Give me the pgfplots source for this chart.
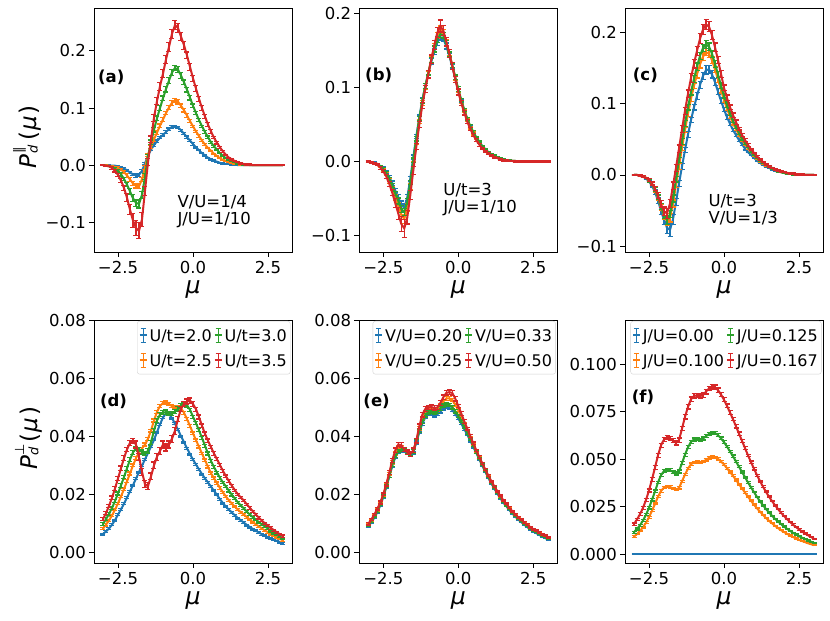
\documentclass[border=0pt]{standalone}
\usepackage{fontspec}
\setmainfont{DejaVu Sans}
\usepackage{pgfplots}
\usepackage{pgfplotstable}
\pgfplotsset{compat=1.18}
\definecolor{tb}{HTML}{1F77B4}
\definecolor{to}{HTML}{FF7F0E}
\definecolor{tg}{HTML}{2CA02C}
\definecolor{tr}{HTML}{D62728}

\pgfplotstableread{
x b be o oe g ge r re
-3.0 0 0.001 0 0.001 0 0.001 0 0.001
-2.9 0 0.001 0 0.001 -0.001 0.001 -0.001 0.001
-2.8 0 0.001 -0.001 0.001 -0.002 0.001 -0.002 0.001
-2.7 -0.001 0.001 -0.002 0.001 -0.003 0.001 -0.005 0.002
-2.6 -0.001 0.001 -0.003 0.001 -0.006 0.002 -0.010 0.002
-2.5 -0.002 0.001 -0.005 0.002 -0.010 0.002 -0.017 0.003
-2.4 -0.004 0.001 -0.008 0.002 -0.016 0.003 -0.027 0.004
-2.3 -0.006 0.002 -0.012 0.002 -0.024 0.003 -0.040 0.005
-2.2 -0.009 0.002 -0.018 0.003 -0.034 0.004 -0.057 0.007
-2.1 -0.013 0.002 -0.025 0.003 -0.046 0.005 -0.078 0.009
-2.0 -0.016 0.002 -0.032 0.004 -0.058 0.006 -0.097 0.012
-1.9 -0.018 0.003 -0.036 0.004 -0.066 0.006 -0.110 0.013
-1.8 -0.017 0.003 -0.037 0.004 -0.068 0.007 -0.115 0.014
-1.7 -0.010 0.003 -0.025 0.004 -0.052 0.006 -0.095 0.012
-1.6 0.003 0.002 -0.004 0.003 -0.020 0.005 -0.045 0.008
-1.5 0.017 0.002 0.018 0.003 0.015 0.004 0.005 0.006
-1.4 0.027 0.002 0.032 0.003 0.040 0.004 0.045 0.006
-1.3 0.035 0.002 0.045 0.003 0.062 0.004 0.083 0.006
-1.2 0.042 0.002 0.057 0.003 0.082 0.004 0.112 0.006
-1.1 0.048 0.002 0.069 0.003 0.100 0.004 0.138 0.007
-1.0 0.053 0.002 0.080 0.003 0.117 0.004 0.160 0.007
-0.9 0.058 0.002 0.091 0.003 0.133 0.005 0.185 0.007
-0.8 0.063 0.002 0.101 0.004 0.148 0.005 0.207 0.008
-0.7 0.067 0.002 0.109 0.004 0.162 0.005 0.230 0.008
-0.6 0.068 0.002 0.113 0.004 0.170 0.005 0.245 0.008
-0.5 0.066 0.002 0.111 0.004 0.167 0.005 0.240 0.008
-0.4 0.061 0.002 0.104 0.003 0.157 0.005 0.225 0.007
-0.3 0.055 0.002 0.096 0.003 0.145 0.004 0.210 0.007
-0.2 0.049 0.002 0.087 0.003 0.132 0.004 0.192 0.006
-0.1 0.043 0.002 0.077 0.003 0.118 0.004 0.172 0.006
0.0 0.037 0.002 0.068 0.002 0.104 0.003 0.152 0.005
0.1 0.031 0.001 0.059 0.002 0.091 0.003 0.134 0.005
0.2 0.026 0.001 0.051 0.002 0.079 0.003 0.116 0.004
0.3 0.021 0.001 0.043 0.002 0.068 0.002 0.100 0.004
0.4 0.017 0.001 0.036 0.002 0.058 0.002 0.085 0.003
0.5 0.013 0.001 0.030 0.001 0.049 0.002 0.071 0.003
0.6 0.010 0.001 0.025 0.001 0.040 0.002 0.059 0.003
0.7 0.008 0.001 0.020 0.001 0.033 0.002 0.048 0.002
0.8 0.006 0.001 0.016 0.001 0.027 0.001 0.039 0.002
0.9 0.004 0.001 0.012 0.001 0.021 0.001 0.031 0.002
1.0 0.003 0.001 0.009 0.001 0.016 0.001 0.024 0.002
1.1 0.002 0.001 0.007 0.001 0.012 0.001 0.018 0.001
1.2 0.002 0.001 0.005 0.001 0.009 0.001 0.013 0.001
1.3 0.001 0.001 0.004 0.001 0.007 0.001 0.010 0.001
1.4 0.001 0.001 0.003 0.001 0.005 0.001 0.007 0.001
1.5 0 0.001 0.002 0.001 0.003 0.001 0.005 0.001
1.6 0 0.001 0.001 0.001 0.002 0.001 0.003 0.001
1.7 0 0.001 0 0.001 0.001 0.001 0.002 0.001
1.8 0 0.001 0 0.001 0.001 0.001 0.001 0.001
1.9 0 0.001 0 0.001 0 0.001 0.001 0.001
2.0 0 0.001 0 0.001 0 0.001 0 0.001
2.1 0 0.001 0 0.001 0 0.001 0 0.001
2.2 0 0.001 0 0.001 0 0.001 0 0.001
2.3 0 0.001 0 0.001 0 0.001 0 0.001
2.4 0 0.001 0 0.001 0 0.001 0 0.001
2.5 0 0.001 0 0.001 0 0.001 0 0.001
2.6 0 0.001 0 0.001 0 0.001 0 0.001
2.7 0 0.001 0 0.001 0 0.001 0 0.001
2.8 0 0.001 0 0.001 0 0.001 0 0.001
2.9 0 0.001 0 0.001 0 0.001 0 0.001
3.0 0 0.001 0 0.001 0 0.001 0 0.001
}\tA

\pgfplotstableread{
x b be o oe g ge r re
-3.0 0 0.001 0 0.001 0 0.001 0 0.001
-2.9 -0.001 0.001 -0.001 0.001 -0.001 0.001 -0.001 0.001
-2.8 -0.001 0.001 -0.002 0.001 -0.002 0.001 -0.002 0.001
-2.7 -0.003 0.001 -0.004 0.001 -0.003 0.001 -0.004 0.001
-2.6 -0.006 0.001 -0.007 0.001 -0.006 0.001 -0.008 0.002
-2.5 -0.009 0.002 -0.011 0.002 -0.010 0.002 -0.013 0.002
-2.4 -0.014 0.002 -0.017 0.002 -0.015 0.002 -0.020 0.003
-2.3 -0.021 0.002 -0.026 0.003 -0.023 0.002 -0.030 0.003
-2.2 -0.029 0.003 -0.036 0.003 -0.032 0.003 -0.042 0.004
-2.1 -0.039 0.003 -0.048 0.004 -0.043 0.003 -0.056 0.006
-2.0 -0.048 0.004 -0.060 0.005 -0.053 0.004 -0.070 0.008
-1.9 -0.058 0.005 -0.072 0.006 -0.064 0.005 -0.084 0.010
-1.8 -0.062 0.005 -0.077 0.006 -0.068 0.005 -0.090 0.012
-1.7 -0.048 0.004 -0.062 0.005 -0.054 0.004 -0.075 0.009
-1.6 -0.023 0.003 -0.034 0.004 -0.028 0.003 -0.045 0.006
-1.5 0.006 0.003 -0.003 0.003 0.002 0.003 -0.012 0.005
-1.4 0.034 0.003 0.026 0.003 0.031 0.003 0.020 0.004
-1.3 0.060 0.003 0.054 0.003 0.058 0.003 0.050 0.004
-1.2 0.083 0.003 0.079 0.003 0.082 0.003 0.076 0.004
-1.1 0.102 0.003 0.100 0.003 0.102 0.003 0.098 0.005
-1.0 0.119 0.003 0.119 0.003 0.120 0.003 0.118 0.005
-0.9 0.135 0.004 0.138 0.004 0.137 0.004 0.138 0.006
-0.8 0.149 0.004 0.155 0.004 0.152 0.004 0.157 0.006
-0.7 0.161 0.004 0.170 0.004 0.165 0.004 0.174 0.007
-0.6 0.168 0.004 0.178 0.005 0.172 0.004 0.183 0.008
-0.5 0.166 0.004 0.174 0.004 0.170 0.004 0.177 0.007
-0.4 0.156 0.004 0.161 0.004 0.159 0.004 0.162 0.006
-0.3 0.143 0.003 0.146 0.003 0.145 0.003 0.146 0.005
-0.2 0.128 0.003 0.130 0.003 0.130 0.003 0.129 0.005
-0.1 0.112 0.003 0.113 0.003 0.114 0.003 0.111 0.004
0.0 0.096 0.003 0.096 0.003 0.098 0.003 0.094 0.004
0.1 0.082 0.002 0.081 0.002 0.083 0.002 0.079 0.003
0.2 0.069 0.002 0.068 0.002 0.070 0.002 0.066 0.003
0.3 0.057 0.002 0.056 0.002 0.058 0.002 0.054 0.003
0.4 0.047 0.002 0.046 0.002 0.048 0.002 0.044 0.002
0.5 0.039 0.002 0.038 0.002 0.040 0.002 0.036 0.002
0.6 0.032 0.001 0.031 0.001 0.033 0.001 0.029 0.002
0.7 0.026 0.001 0.025 0.001 0.027 0.001 0.023 0.002
0.8 0.021 0.001 0.020 0.001 0.021 0.001 0.018 0.001
0.9 0.016 0.001 0.016 0.001 0.017 0.001 0.014 0.001
1.0 0.013 0.001 0.012 0.001 0.013 0.001 0.011 0.001
1.1 0.010 0.001 0.009 0.001 0.010 0.001 0.008 0.001
1.2 0.007 0.001 0.007 0.001 0.008 0.001 0.006 0.001
1.3 0.006 0.001 0.005 0.001 0.006 0.001 0.005 0.001
1.4 0.004 0.001 0.004 0.001 0.004 0.001 0.003 0.001
1.5 0.003 0.001 0.003 0.001 0.003 0.001 0.002 0.001
1.6 0.002 0.001 0.002 0.001 0.002 0.001 0.002 0.001
1.7 0.001 0.001 0.001 0.001 0.002 0.001 0.001 0.001
1.8 0.001 0.001 0.001 0.001 0.001 0.001 0.001 0.001
1.9 0.001 0.001 0.001 0.001 0.001 0.001 0 0.001
2.0 0 0.001 0 0.001 0 0.001 0 0.001
2.1 0 0.001 0 0.001 0 0.001 0 0.001
2.2 0 0.001 0 0.001 0 0.001 0 0.001
2.3 0 0.001 0 0.001 0 0.001 0 0.001
2.4 0 0.001 0 0.001 0 0.001 0 0.001
2.5 0 0.001 0 0.001 0 0.001 0 0.001
2.6 0 0.001 0 0.001 0 0.001 0 0.001
2.7 0 0.001 0 0.001 0 0.001 0 0.001
2.8 0 0.001 0 0.001 0 0.001 0 0.001
2.9 0 0.001 0 0.001 0 0.001 0 0.001
3.0 0 0.001 0 0.001 0 0.001 0 0.001
}\tB

\pgfplotstableread{
x b be o oe g ge r re
-3.0 0 0.001 0 0.001 0 0.001 0 0.001
-2.9 0 0.001 0 0.001 0 0.001 0 0.001
-2.8 -0.001 0.001 -0.001 0.001 -0.001 0.001 -0.001 0.001
-2.7 -0.002 0.001 -0.002 0.001 -0.002 0.001 -0.002 0.001
-2.6 -0.005 0.001 -0.004 0.001 -0.004 0.001 -0.004 0.001
-2.5 -0.009 0.002 -0.008 0.002 -0.008 0.002 -0.007 0.002
-2.4 -0.015 0.002 -0.013 0.002 -0.013 0.002 -0.012 0.002
-2.3 -0.024 0.003 -0.021 0.003 -0.020 0.003 -0.019 0.003
-2.2 -0.036 0.004 -0.032 0.003 -0.031 0.003 -0.029 0.004
-2.1 -0.050 0.005 -0.045 0.004 -0.044 0.004 -0.041 0.005
-2.0 -0.063 0.006 -0.057 0.005 -0.056 0.005 -0.051 0.006
-1.9 -0.074 0.008 -0.065 0.006 -0.063 0.006 -0.054 0.007
-1.8 -0.077 0.009 -0.060 0.006 -0.055 0.005 -0.040 0.006
-1.7 -0.062 0.007 -0.040 0.005 -0.033 0.005 -0.015 0.005
-1.6 -0.038 0.005 -0.014 0.004 -0.006 0.004 0.010 0.005
-1.5 -0.012 0.004 0.012 0.004 0.021 0.004 0.037 0.005
-1.4 0.012 0.004 0.038 0.004 0.047 0.004 0.064 0.005
-1.3 0.035 0.004 0.063 0.004 0.072 0.004 0.090 0.005
-1.2 0.057 0.004 0.086 0.004 0.095 0.004 0.114 0.005
-1.1 0.077 0.004 0.107 0.004 0.116 0.004 0.136 0.006
-1.0 0.095 0.004 0.125 0.004 0.135 0.005 0.156 0.006
-0.9 0.111 0.005 0.141 0.005 0.152 0.005 0.174 0.006
-0.8 0.126 0.005 0.155 0.005 0.167 0.005 0.191 0.007
-0.7 0.139 0.005 0.166 0.005 0.178 0.005 0.204 0.007
-0.6 0.147 0.006 0.172 0.005 0.183 0.006 0.211 0.007
-0.5 0.148 0.006 0.170 0.005 0.180 0.005 0.208 0.007
-0.4 0.141 0.005 0.161 0.005 0.170 0.005 0.196 0.006
-0.3 0.130 0.005 0.148 0.004 0.156 0.005 0.179 0.006
-0.2 0.117 0.004 0.134 0.004 0.141 0.004 0.161 0.005
-0.1 0.104 0.004 0.119 0.004 0.125 0.004 0.142 0.005
0.0 0.092 0.003 0.105 0.003 0.111 0.003 0.122 0.004
0.1 0.081 0.003 0.093 0.003 0.098 0.003 0.108 0.004
0.2 0.072 0.003 0.082 0.003 0.086 0.003 0.095 0.003
0.3 0.063 0.002 0.072 0.002 0.076 0.002 0.084 0.003
0.4 0.056 0.002 0.064 0.002 0.067 0.002 0.074 0.003
0.5 0.049 0.002 0.056 0.002 0.059 0.002 0.065 0.002
0.6 0.043 0.002 0.049 0.002 0.051 0.002 0.056 0.002
0.7 0.037 0.002 0.043 0.002 0.045 0.002 0.049 0.002
0.8 0.032 0.001 0.037 0.001 0.039 0.001 0.042 0.002
0.9 0.028 0.001 0.032 0.001 0.033 0.001 0.036 0.001
1.0 0.024 0.001 0.027 0.001 0.028 0.001 0.031 0.001
1.1 0.020 0.001 0.023 0.001 0.024 0.001 0.026 0.001
1.2 0.017 0.001 0.019 0.001 0.020 0.001 0.022 0.001
1.3 0.014 0.001 0.016 0.001 0.017 0.001 0.018 0.001
1.4 0.012 0.001 0.013 0.001 0.014 0.001 0.015 0.001
1.5 0.010 0.001 0.011 0.001 0.011 0.001 0.012 0.001
1.6 0.008 0.001 0.009 0.001 0.009 0.001 0.010 0.001
1.7 0.006 0.001 0.007 0.001 0.007 0.001 0.008 0.001
1.8 0.005 0.001 0.005 0.001 0.005 0.001 0.006 0.001
1.9 0.004 0.001 0.004 0.001 0.004 0.001 0.005 0.001
2.0 0.003 0.001 0.003 0.001 0.003 0.001 0.004 0.001
2.1 0.002 0.001 0.002 0.001 0.002 0.001 0.003 0.001
2.2 0.002 0.001 0.002 0.001 0.002 0.001 0.002 0.001
2.3 0.001 0.001 0.001 0.001 0.001 0.001 0.002 0.001
2.4 0.001 0.001 0.001 0.001 0.001 0.001 0.001 0.001
2.5 0 0.001 0 0.001 0 0.001 0.001 0.001
2.6 0 0.001 0 0.001 0 0.001 0.001 0.001
2.7 0 0.001 0 0.001 0 0.001 0 0.001
2.8 0 0.001 0 0.001 0 0.001 0 0.001
2.9 0 0.001 0 0.001 0 0.001 0 0.001
3.0 0 0.001 0 0.001 0 0.001 0 0.001
}\tC

\pgfplotstableread{
x b be o oe g ge r re
-3.0 0.0063 0.0003 0.0082 0.0004 0.0098 0.0005 0.0115 0.0005
-2.9 0.0072 0.0003 0.0095 0.0004 0.0114 0.0005 0.0135 0.0005
-2.8 0.0082 0.0003 0.0110 0.0004 0.0132 0.0005 0.0160 0.0005
-2.7 0.0095 0.0003 0.0127 0.0004 0.0153 0.0005 0.0188 0.0006
-2.6 0.0111 0.0003 0.0147 0.0004 0.0177 0.0005 0.0220 0.0006
-2.5 0.0130 0.0003 0.0169 0.0004 0.0203 0.0005 0.0255 0.0007
-2.4 0.0148 0.0003 0.0193 0.0004 0.0231 0.0006 0.0290 0.0008
-2.3 0.0168 0.0003 0.0218 0.0004 0.0260 0.0006 0.0325 0.0008
-2.2 0.0189 0.0003 0.0245 0.0005 0.0290 0.0007 0.0355 0.0008
-2.1 0.0210 0.0003 0.0272 0.0005 0.0320 0.0007 0.0378 0.0009
-2.0 0.0232 0.0003 0.0300 0.0005 0.0345 0.0007 0.0385 0.0009
-1.9 0.0254 0.0003 0.0325 0.0005 0.0358 0.0007 0.0372 0.0012
-1.8 0.0277 0.0003 0.0345 0.0005 0.0355 0.0007 0.0330 0.0012
-1.7 0.0299 0.0003 0.0358 0.0005 0.0346 0.0007 0.0278 0.0012
-1.6 0.0321 0.0003 0.0372 0.0005 0.0342 0.0007 0.0235 0.0012
-1.5 0.0343 0.0003 0.0392 0.0005 0.0350 0.0007 0.0228 0.0012
-1.4 0.0365 0.0003 0.0420 0.0005 0.0380 0.0007 0.0262 0.0012
-1.3 0.0388 0.0003 0.0455 0.0005 0.0420 0.0007 0.0300 0.0012
-1.2 0.0415 0.0003 0.0485 0.0005 0.0455 0.0007 0.0330 0.0012
-1.1 0.0442 0.0003 0.0505 0.0005 0.0475 0.0007 0.0350 0.0012
-1.0 0.0465 0.0003 0.0515 0.0005 0.0482 0.0007 0.0372 0.0012
-0.9 0.0480 0.0003 0.0517 0.0005 0.0484 0.0007 0.0362 0.0012
-0.8 0.0478 0.0003 0.0511 0.0005 0.0480 0.0007 0.0372 0.0012
-0.7 0.0463 0.0003 0.0505 0.0005 0.0478 0.0007 0.0392 0.0012
-0.6 0.0444 0.0003 0.0503 0.0005 0.0485 0.0007 0.0420 0.0012
-0.5 0.0423 0.0003 0.0503 0.0005 0.0495 0.0007 0.0460 0.0009
-0.4 0.0401 0.0003 0.0497 0.0005 0.0506 0.0007 0.0495 0.0009
-0.3 0.0380 0.0003 0.0482 0.0005 0.0512 0.0007 0.0512 0.0009
-0.2 0.0359 0.0003 0.0460 0.0005 0.0508 0.0007 0.0520 0.0009
-0.1 0.0339 0.0003 0.0436 0.0004 0.0492 0.0005 0.0524 0.0009
0.0 0.0320 0.0003 0.0411 0.0004 0.0468 0.0005 0.0512 0.0009
0.1 0.0303 0.0003 0.0387 0.0004 0.0446 0.0005 0.0494 0.0007
0.2 0.0286 0.0003 0.0364 0.0004 0.0421 0.0005 0.0467 0.0007
0.3 0.0270 0.0003 0.0341 0.0004 0.0395 0.0005 0.0437 0.0006
0.4 0.0255 0.0003 0.0318 0.0004 0.0368 0.0005 0.0409 0.0006
0.5 0.0241 0.0003 0.0295 0.0004 0.0341 0.0005 0.0385 0.0006
0.6 0.0227 0.0003 0.0273 0.0004 0.0315 0.0005 0.0363 0.0006
0.7 0.0212 0.0003 0.0256 0.0004 0.0294 0.0005 0.0341 0.0006
0.8 0.0198 0.0003 0.0239 0.0004 0.0275 0.0005 0.0321 0.0005
0.9 0.0183 0.0003 0.0222 0.0004 0.0257 0.0005 0.0301 0.0005
1.0 0.0170 0.0003 0.0207 0.0004 0.0241 0.0004 0.0281 0.0005
1.1 0.0157 0.0003 0.0192 0.0003 0.0227 0.0004 0.0262 0.0005
1.2 0.0147 0.0003 0.0179 0.0003 0.0212 0.0004 0.0245 0.0005
1.3 0.0137 0.0003 0.0168 0.0003 0.0198 0.0004 0.0229 0.0005
1.4 0.0127 0.0003 0.0157 0.0003 0.0185 0.0004 0.0214 0.0004
1.5 0.0118 0.0003 0.0147 0.0003 0.0172 0.0004 0.0200 0.0004
1.6 0.0110 0.0003 0.0138 0.0003 0.0161 0.0004 0.0189 0.0004
1.7 0.0102 0.0003 0.0130 0.0003 0.0151 0.0004 0.0178 0.0004
1.8 0.0094 0.0003 0.0121 0.0003 0.0140 0.0003 0.0165 0.0004
1.9 0.0087 0.0003 0.0112 0.0003 0.0130 0.0003 0.0153 0.0004
2.0 0.0080 0.0003 0.0104 0.0003 0.0121 0.0003 0.0141 0.0004
2.1 0.0074 0.0003 0.0096 0.0003 0.0112 0.0003 0.0130 0.0004
2.2 0.0068 0.0003 0.0089 0.0003 0.0104 0.0003 0.0119 0.0004
2.3 0.0062 0.0003 0.0082 0.0003 0.0096 0.0003 0.0109 0.0004
2.4 0.0057 0.0003 0.0075 0.0003 0.0089 0.0003 0.0100 0.0004
2.5 0.0052 0.0003 0.0069 0.0003 0.0082 0.0003 0.0092 0.0004
2.6 0.0047 0.0003 0.0063 0.0003 0.0073 0.0003 0.0084 0.0004
2.7 0.0043 0.0003 0.0057 0.0003 0.0066 0.0003 0.0076 0.0004
2.8 0.0039 0.0003 0.0052 0.0003 0.0060 0.0003 0.0069 0.0004
2.9 0.0035 0.0003 0.0046 0.0003 0.0054 0.0003 0.0062 0.0004
3.0 0.0031 0.0003 0.0041 0.0003 0.0049 0.0003 0.0056 0.0004
}\tD

\pgfplotstableread{
x b be o oe g ge r re
-3.0 0.0089 0.0003 0.0095 0.0003 0.0092 0.0003 0.0098 0.0004
-2.9 0.0103 0.0003 0.0110 0.0003 0.0106 0.0003 0.0113 0.0004
-2.8 0.0119 0.0003 0.0126 0.0003 0.0122 0.0003 0.0130 0.0004
-2.7 0.0138 0.0003 0.0146 0.0004 0.0141 0.0004 0.0150 0.0004
-2.6 0.0162 0.0004 0.0169 0.0004 0.0165 0.0004 0.0172 0.0005
-2.5 0.0191 0.0004 0.0197 0.0004 0.0194 0.0004 0.0200 0.0005
-2.4 0.0225 0.0004 0.0232 0.0005 0.0228 0.0005 0.0235 0.0006
-2.3 0.0261 0.0004 0.0270 0.0005 0.0264 0.0005 0.0275 0.0006
-2.2 0.0298 0.0005 0.0310 0.0006 0.0302 0.0006 0.0318 0.0007
-2.1 0.0328 0.0005 0.0342 0.0006 0.0332 0.0006 0.0352 0.0008
-2.0 0.0346 0.0005 0.0361 0.0006 0.0350 0.0006 0.0372 0.0008
-1.9 0.0351 0.0005 0.0363 0.0006 0.0355 0.0006 0.0370 0.0008
-1.8 0.0349 0.0005 0.0354 0.0006 0.0353 0.0006 0.0355 0.0008
-1.7 0.0342 0.0005 0.0346 0.0006 0.0346 0.0006 0.0345 0.0008
-1.6 0.0335 0.0005 0.0340 0.0006 0.0339 0.0006 0.0340 0.0008
-1.5 0.0344 0.0005 0.0350 0.0006 0.0348 0.0006 0.0352 0.0008
-1.4 0.0379 0.0005 0.0384 0.0006 0.0383 0.0006 0.0385 0.0008
-1.3 0.0414 0.0005 0.0427 0.0006 0.0419 0.0006 0.0435 0.0008
-1.2 0.0444 0.0005 0.0463 0.0006 0.0450 0.0006 0.0475 0.0008
-1.1 0.0466 0.0005 0.0484 0.0006 0.0473 0.0006 0.0495 0.0008
-1.0 0.0476 0.0005 0.0492 0.0006 0.0483 0.0006 0.0500 0.0008
-0.9 0.0476 0.0005 0.0493 0.0006 0.0484 0.0006 0.0502 0.0008
-0.8 0.0472 0.0005 0.0490 0.0006 0.0481 0.0006 0.0498 0.0008
-0.7 0.0476 0.0005 0.0493 0.0006 0.0486 0.0006 0.0500 0.0008
-0.6 0.0486 0.0005 0.0506 0.0006 0.0496 0.0006 0.0515 0.0008
-0.5 0.0496 0.0005 0.0521 0.0006 0.0506 0.0006 0.0535 0.0008
-0.4 0.0501 0.0005 0.0531 0.0006 0.0511 0.0006 0.0550 0.0008
-0.3 0.0499 0.0005 0.0531 0.0006 0.0509 0.0006 0.0553 0.0008
-0.2 0.0491 0.0005 0.0526 0.0006 0.0501 0.0006 0.0550 0.0008
-0.1 0.0477 0.0005 0.0509 0.0006 0.0487 0.0006 0.0530 0.0008
0.0 0.0462 0.0004 0.0491 0.0005 0.0471 0.0005 0.0505 0.0006
0.1 0.0444 0.0004 0.0467 0.0005 0.0452 0.0005 0.0479 0.0006
0.2 0.0425 0.0004 0.0443 0.0005 0.0432 0.0005 0.0452 0.0006
0.3 0.0406 0.0004 0.0420 0.0004 0.0412 0.0004 0.0427 0.0005
0.4 0.0385 0.0004 0.0396 0.0004 0.0390 0.0004 0.0401 0.0005
0.5 0.0364 0.0004 0.0372 0.0004 0.0368 0.0004 0.0376 0.0005
0.6 0.0343 0.0003 0.0349 0.0004 0.0346 0.0004 0.0352 0.0004
0.7 0.0321 0.0003 0.0326 0.0003 0.0324 0.0003 0.0329 0.0004
0.8 0.0299 0.0003 0.0304 0.0003 0.0302 0.0003 0.0307 0.0004
0.9 0.0278 0.0003 0.0283 0.0003 0.0281 0.0003 0.0286 0.0004
1.0 0.0257 0.0003 0.0262 0.0003 0.0260 0.0003 0.0265 0.0003
1.1 0.0238 0.0003 0.0243 0.0003 0.0241 0.0003 0.0246 0.0003
1.2 0.0220 0.0003 0.0225 0.0003 0.0223 0.0003 0.0228 0.0003
1.3 0.0203 0.0003 0.0208 0.0003 0.0206 0.0003 0.0211 0.0003
1.4 0.0187 0.0003 0.0192 0.0003 0.0190 0.0003 0.0195 0.0003
1.5 0.0172 0.0002 0.0177 0.0002 0.0175 0.0002 0.0180 0.0003
1.6 0.0159 0.0002 0.0164 0.0002 0.0162 0.0002 0.0167 0.0003
1.7 0.0146 0.0002 0.0151 0.0002 0.0149 0.0002 0.0154 0.0003
1.8 0.0134 0.0002 0.0139 0.0002 0.0137 0.0002 0.0142 0.0003
1.9 0.0123 0.0002 0.0128 0.0002 0.0126 0.0002 0.0131 0.0003
2.0 0.0113 0.0002 0.0118 0.0002 0.0116 0.0002 0.0121 0.0003
2.1 0.0104 0.0002 0.0109 0.0002 0.0107 0.0002 0.0112 0.0003
2.2 0.0095 0.0002 0.0100 0.0002 0.0098 0.0002 0.0103 0.0003
2.3 0.0087 0.0002 0.0092 0.0002 0.0090 0.0002 0.0095 0.0003
2.4 0.0079 0.0002 0.0084 0.0002 0.0082 0.0002 0.0087 0.0003
2.5 0.0072 0.0002 0.0077 0.0002 0.0075 0.0002 0.0080 0.0003
2.6 0.0066 0.0002 0.0071 0.0002 0.0069 0.0002 0.0074 0.0003
2.7 0.0060 0.0002 0.0065 0.0002 0.0063 0.0002 0.0068 0.0003
2.8 0.0054 0.0002 0.0059 0.0002 0.0057 0.0002 0.0062 0.0003
2.9 0.0049 0.0002 0.0054 0.0002 0.0052 0.0002 0.0057 0.0003
3.0 0.0044 0.0002 0.0049 0.0002 0.0047 0.0002 0.0052 0.0003
}\tE

\pgfplotstableread{
x b be o oe g ge r re
-3.0 0 0.0003 0.0092 0.0004 0.0115 0.0005 0.0158 0.0006
-2.9 0 0.0003 0.0106 0.0004 0.0132 0.0005 0.0182 0.0006
-2.8 0 0.0003 0.0122 0.0004 0.0152 0.0005 0.0210 0.0007
-2.7 0 0.0003 0.0141 0.0004 0.0176 0.0005 0.0243 0.0007
-2.6 0 0.0003 0.0165 0.0005 0.0207 0.0006 0.0285 0.0008
-2.5 0 0.0003 0.0194 0.0005 0.0243 0.0006 0.0335 0.0008
-2.4 0 0.0003 0.0228 0.0005 0.0285 0.0006 0.0393 0.0009
-2.3 0 0.0003 0.0264 0.0005 0.0330 0.0007 0.0455 0.0010
-2.2 0 0.0003 0.0302 0.0006 0.0377 0.0007 0.0520 0.0010
-2.1 0 0.0003 0.0332 0.0006 0.0415 0.0007 0.0572 0.0011
-2.0 0 0.0003 0.0350 0.0006 0.0437 0.0008 0.0603 0.0011
-1.9 0 0.0003 0.0355 0.0006 0.0444 0.0008 0.0612 0.0011
-1.8 0 0.0003 0.0353 0.0006 0.0441 0.0008 0.0608 0.0011
-1.7 0 0.0003 0.0346 0.0006 0.0433 0.0008 0.0597 0.0011
-1.6 0 0.0003 0.0339 0.0006 0.0424 0.0008 0.0585 0.0011
-1.5 0 0.0003 0.0348 0.0006 0.0435 0.0008 0.0600 0.0011
-1.4 0 0.0003 0.0383 0.0006 0.0479 0.0008 0.0660 0.0011
-1.3 0 0.0003 0.0419 0.0006 0.0523 0.0008 0.0722 0.0011
-1.2 0 0.0003 0.0450 0.0006 0.0562 0.0008 0.0775 0.0011
-1.1 0 0.0003 0.0473 0.0006 0.0591 0.0008 0.0815 0.0012
-1.0 0 0.0003 0.0483 0.0006 0.0603 0.0008 0.0832 0.0012
-0.9 0 0.0003 0.0484 0.0006 0.0605 0.0008 0.0835 0.0012
-0.8 0 0.0003 0.0481 0.0006 0.0602 0.0008 0.0830 0.0012
-0.7 0 0.0003 0.0486 0.0006 0.0608 0.0008 0.0838 0.0012
-0.6 0 0.0003 0.0496 0.0006 0.0620 0.0008 0.0855 0.0012
-0.5 0 0.0003 0.0506 0.0006 0.0632 0.0008 0.0872 0.0012
-0.4 0 0.0003 0.0511 0.0006 0.0639 0.0008 0.0881 0.0012
-0.3 0 0.0003 0.0509 0.0006 0.0637 0.0008 0.0878 0.0012
-0.2 0 0.0003 0.0501 0.0006 0.0626 0.0008 0.0863 0.0011
-0.1 0 0.0003 0.0487 0.0006 0.0609 0.0007 0.0840 0.0011
0.0 0 0.0003 0.0471 0.0005 0.0589 0.0007 0.0812 0.0010
0.1 0 0.0003 0.0452 0.0005 0.0566 0.0007 0.0780 0.0010
0.2 0 0.0003 0.0432 0.0005 0.0540 0.0006 0.0745 0.0009
0.3 0 0.0003 0.0412 0.0005 0.0515 0.0006 0.0710 0.0009
0.4 0 0.0003 0.0390 0.0005 0.0487 0.0006 0.0672 0.0008
0.5 0 0.0003 0.0368 0.0004 0.0460 0.0006 0.0634 0.0008
0.6 0 0.0003 0.0346 0.0004 0.0432 0.0005 0.0596 0.0007
0.7 0 0.0003 0.0324 0.0004 0.0405 0.0005 0.0558 0.0007
0.8 0 0.0003 0.0302 0.0004 0.0377 0.0005 0.0520 0.0006
0.9 0 0.0003 0.0281 0.0004 0.0351 0.0005 0.0484 0.0006
1.0 0 0.0003 0.0260 0.0004 0.0326 0.0004 0.0449 0.0006
1.1 0 0.0003 0.0241 0.0003 0.0301 0.0004 0.0415 0.0005
1.2 0 0.0003 0.0223 0.0003 0.0278 0.0004 0.0384 0.0005
1.3 0 0.0003 0.0206 0.0003 0.0257 0.0004 0.0355 0.0005
1.4 0 0.0003 0.0190 0.0003 0.0237 0.0004 0.0327 0.0005
1.5 0 0.0003 0.0175 0.0003 0.0219 0.0003 0.0302 0.0004
1.6 0 0.0003 0.0162 0.0003 0.0202 0.0003 0.0279 0.0004
1.7 0 0.0003 0.0149 0.0003 0.0186 0.0003 0.0257 0.0004
1.8 0 0.0003 0.0137 0.0003 0.0172 0.0003 0.0237 0.0004
1.9 0 0.0003 0.0126 0.0003 0.0158 0.0003 0.0218 0.0004
2.0 0 0.0003 0.0116 0.0003 0.0145 0.0003 0.0200 0.0004
2.1 0 0.0003 0.0107 0.0003 0.0133 0.0003 0.0184 0.0004
2.2 0 0.0003 0.0098 0.0003 0.0123 0.0003 0.0169 0.0004
2.3 0 0.0003 0.0090 0.0003 0.0112 0.0003 0.0155 0.0004
2.4 0 0.0003 0.0082 0.0003 0.0103 0.0003 0.0142 0.0004
2.5 0 0.0003 0.0075 0.0003 0.0094 0.0003 0.0130 0.0004
2.6 0 0.0003 0.0069 0.0003 0.0086 0.0003 0.0119 0.0003
2.7 0 0.0003 0.0063 0.0003 0.0079 0.0003 0.0109 0.0003
2.8 0 0.0003 0.0057 0.0003 0.0072 0.0003 0.0099 0.0003
2.9 0 0.0003 0.0052 0.0003 0.0065 0.0003 0.0090 0.0003
3.0 0 0.0003 0.0047 0.0003 0.0059 0.0003 0.0081 0.0003
}\tF

\newcommand{\Pd}[1]{\textit{P}\kern0.5pt\rlap{\raisebox{13pt}{\fontsize{13}{13}\selectfont #1}}\raisebox{-1.5pt}{\fontsize{13}{13}\selectfont\textit{d}}\kern5pt(\kern1pt\textit{μ}\kern2pt)}

\tikzset{
  lab/.style={anchor=west, inner sep=0pt, font=\bfseries\fontsize{16.5}{16.5}\selectfont},
  ann/.style={anchor=base west, inner sep=0pt, font=\fontsize{16.5}{16.5}\selectfont},
}
\pgfplotsset{
  base/.style={anchor=south west, scale only axis, width=198pt, height=244pt,
    xmin=-3.3, xmax=3.3, xtick={-2.5,0,2.5}, xticklabels={−2.5,0.0,2.5},
    scaled y ticks=false, scaled x ticks=false,
    tick align=outside, tick pos=left, major tick length=5pt,
    every tick/.style={black, line width=0.8pt},
    axis line style={black, line width=0.8pt},
    ticklabel style={font=\fontsize{16.5}{16.5}\selectfont},
    xticklabel style={inner sep=4pt},
    yticklabel style={inner sep=3pt},
    legend columns=2, legend cell align=left,
    legend style={at={(1,1)}, anchor=north east, xshift=-1.5pt, yshift=-1pt,
      draw=black!18, rounded corners=2.5pt, fill=white, fill opacity=0.8, text opacity=1,
      inner sep=1.5pt, column sep=0pt, font=\fontsize{16}{16}\selectfont,
      nodes={inner xsep=2pt, inner ysep=5pt, text height=14pt, text depth=1pt}},
  },
  ser/.style={color=#1, line width=2pt, mark=none,
    error bars/.cd, y dir=both, y explicit,
    error bar style={line width=1.2pt},
    draw error bar/.code 2 args={\draw ##1 -- ##2 ++(-2.5pt,0pt) -- ++(5pt,0pt);}},
  errleg/.style={legend image code/.code={%
    \draw[#1,line width=1.2pt] (0pt,-7pt)--(0pt,7pt) (-2.6pt,-7pt)--(2.6pt,-7pt) (-2.6pt,7pt)--(2.6pt,7pt);
    \draw[#1,line width=1.8pt] (-3.5pt,0pt)--(3.5pt,0pt);}},
}

\newcommand{\four}[1]{%
  \addplot[forget plot, ser=tb] table[x=x, y=b, y error=be] {#1};
  \addplot[forget plot, ser=to] table[x=x, y=o, y error=oe] {#1};
  \addplot[forget plot, ser=tg] table[x=x, y=g, y error=ge] {#1};
  \addplot[forget plot, ser=tr] table[x=x, y=r, y error=re] {#1};
}

\begin{document}
\begin{tikzpicture}
\useasboundingbox (0,0) rectangle (830pt,621pt);

% (a)
\begin{axis}[base, at={(94pt,369pt)}, ymin=-0.152, ymax=0.275,
  ytick={-0.1,0,0.1,0.2}, yticklabels={−0.1,0.0,0.1,0.2}]
\four{\tA}
\node[lab] at (rel axis cs:0.020,0.717) {(a)};
\node[ann] at (rel axis cs:0.421,0.184) {V/U=1/4};
\node[ann] at (rel axis cs:0.421,0.1135) {J/U=1/10};
\end{axis}

% (b)
\begin{axis}[base, at={(359.3pt,369pt)}, ymin=-0.1218, ymax=0.2073,
  ytick={-0.1,0,0.1,0.2}, yticklabels={−0.1,0.0,0.1,0.2}]
\four{\tB}
\node[lab] at (rel axis cs:0.029,0.725) {(b)};
\node[ann] at (rel axis cs:0.424,0.232) {U/t=3};
\node[ann] at (rel axis cs:0.424,0.161) {J/U=1/10};
\end{axis}

% (c)
\begin{axis}[base, at={(625pt,369pt)}, ymin=-0.108, ymax=0.2341,
  ytick={-0.1,0,0.1,0.2}, yticklabels={−0.1,0.0,0.1,0.2}]
\four{\tC}
\node[lab] at (rel axis cs:0.039,0.722) {(c)};
\node[ann] at (rel axis cs:0.421,0.186) {U/t=3};
\node[ann] at (rel axis cs:0.421,0.115) {V/U=1/3};
\end{axis}

% (d)
\begin{axis}[base, height=243pt, at={(94pt,58pt)}, ymin=-0.0037, ymax=0.0802,
  ytick={0,0.02,0.04,0.06,0.08}, yticklabels={0.00,0.02,0.04,0.06,0.08}]
\four{\tD}
\addlegendimage{errleg=tb}\addlegendentry{U/t=2.0}
\addlegendimage{errleg=tg}\addlegendentry{U/t=3.0}
\addlegendimage{errleg=to}\addlegendentry{U/t=2.5}
\addlegendimage{errleg=tr}\addlegendentry{U/t=3.5}
\node[lab] at (rel axis cs:0.030,0.667) {(d)};
\end{axis}

% (e)
\begin{axis}[base, height=243pt, at={(359.3pt,58pt)}, ymin=-0.0037, ymax=0.0802,
  ytick={0,0.02,0.04,0.06,0.08}, yticklabels={0.00,0.02,0.04,0.06,0.08}]
\four{\tE}
\addlegendimage{errleg=tb}\addlegendentry{V/U=0.20}
\addlegendimage{errleg=tg}\addlegendentry{V/U=0.33}
\addlegendimage{errleg=to}\addlegendentry{V/U=0.25}
\addlegendimage{errleg=tr}\addlegendentry{V/U=0.50}
\node[lab] at (rel axis cs:0.020,0.667) {(e)};
\end{axis}

% (f)
\begin{axis}[base, height=243pt, at={(625pt,58pt)}, ymin=-0.0047, ymax=0.1232,
  ytick={0,0.025,0.05,0.075,0.1}, yticklabels={0.000,0.025,0.050,0.075,0.100}]
\four{\tF}
\addlegendimage{errleg=tb}\addlegendentry{J/U=0.00}
\addlegendimage{errleg=tg}\addlegendentry{J/U=0.125}
\addlegendimage{errleg=to}\addlegendentry{J/U=0.100}
\addlegendimage{errleg=tr}\addlegendentry{J/U=0.167}
\node[lab] at (rel axis cs:0.034,0.681) {(f)};
\end{axis}

% axis labels
\foreach \cx in {193,458.3,724} {
  \node[anchor=base, inner sep=0pt, font=\fontsize{23.5}{23.5}\selectfont] at (\cx pt,327pt) {\textit{μ}};
  \node[anchor=base, inner sep=0pt, font=\fontsize{23.5}{23.5}\selectfont] at (\cx pt,16pt) {\textit{μ}};
}
\node[rotate=90, anchor=base, inner sep=0pt, font=\fontsize{23}{23}\selectfont] at (36pt,484.3pt) {\Pd{∥}};
\node[rotate=90, anchor=base, inner sep=0pt, font=\fontsize{23}{23}\selectfont] at (37pt,182.7pt) {\Pd{⊥}};
\end{tikzpicture}
\end{document}
